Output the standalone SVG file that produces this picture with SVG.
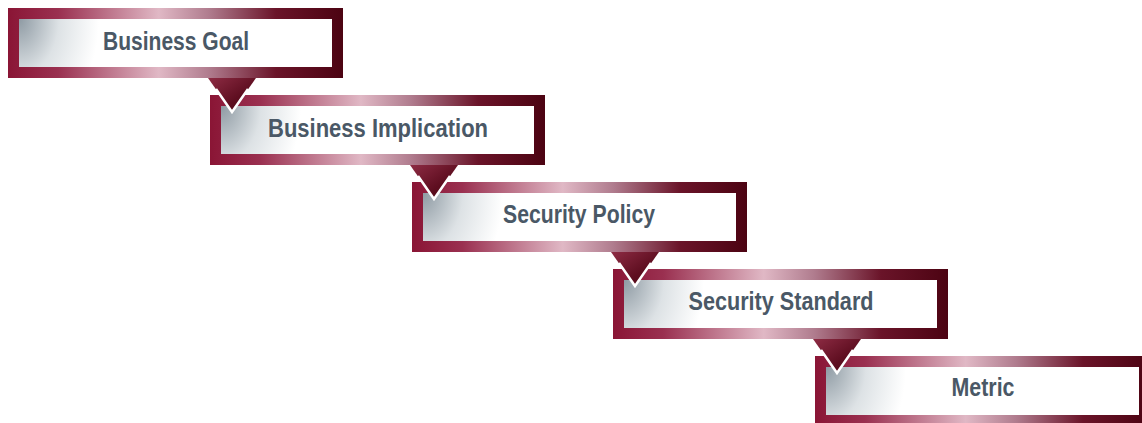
<svg xmlns="http://www.w3.org/2000/svg" width="1142" height="423" viewBox="0 0 1142 423">
  <defs>
    <linearGradient id="border" gradientUnits="userSpaceOnUse" x1="0" y1="0" x2="335" y2="0">
      <stop offset="0" stop-color="#8a1535"/>
      <stop offset="0.15" stop-color="#9a3050"/>
      <stop offset="0.45" stop-color="#e0b8c5"/>
      <stop offset="0.6" stop-color="#b07c8e"/>
      <stop offset="0.8" stop-color="#6a1429"/>
      <stop offset="1" stop-color="#4c0312"/>
    </linearGradient>
    <radialGradient id="inner" gradientUnits="userSpaceOnUse" cx="11" cy="11" r="80" gradientTransform="translate(11,11) scale(1,1.4) translate(-11,-11)">
      <stop offset="0" stop-color="#8e9aa3"/>
      <stop offset="0.5" stop-color="#dde2e5"/>
      <stop offset="1" stop-color="#ffffff"/>
    </radialGradient>
    <linearGradient id="tri" x1="0" y1="0" x2="1" y2="1">
      <stop offset="0" stop-color="#8e2c44"/>
      <stop offset="0.6" stop-color="#5e0e20"/>
      <stop offset="1" stop-color="#4a0510"/>
    </linearGradient>
  </defs>
  <style>
    .outer { fill: url(#border); }
    .inner { fill: url(#inner); }
    .label { font-family: "Liberation Sans", Arial, sans-serif; font-weight: bold; font-size: 25px; fill: #4a5866; text-anchor: middle; }
    .tri { fill: url(#tri); }
    .edge { fill: none; stroke: #ffffff; stroke-width: 2.5; stroke-linejoin: miter; }
  </style>
  <rect width="1142" height="423" fill="#ffffff"/>

  <g id="node-business-goal" transform="translate(8,8)">
    <rect class="outer" x="0" y="0" width="335" height="70"/>
    <rect class="inner" x="11" y="11" width="313" height="48"/>
    <text class="label" x="168" y="42" textLength="146" lengthAdjust="spacingAndGlyphs">Business Goal</text>
  </g>
  <g id="node-business-implication" transform="translate(210,95)">
    <rect class="outer" x="0" y="0" width="335" height="70"/>
    <rect class="inner" x="11" y="11" width="313" height="48"/>
    <text class="label" x="168" y="42" textLength="220" lengthAdjust="spacingAndGlyphs">Business Implication</text>
  </g>
  <g id="node-security-policy" transform="translate(412,182)">
    <rect class="outer" x="0" y="0" width="335" height="70"/>
    <rect class="inner" x="11" y="11" width="313" height="48"/>
    <text class="label" x="167" y="41" textLength="152" lengthAdjust="spacingAndGlyphs">Security Policy</text>
  </g>
  <g id="node-security-standard" transform="translate(613,269)">
    <rect class="outer" x="0" y="0" width="335" height="70"/>
    <rect class="inner" x="11" y="11" width="313" height="48"/>
    <text class="label" x="168" y="41" textLength="185" lengthAdjust="spacingAndGlyphs">Security Standard</text>
  </g>
  <g id="node-metric" transform="translate(815,356)">
    <rect class="outer" x="0" y="0" width="335" height="70"/>
    <rect class="inner" x="11" y="11" width="313" height="48"/>
    <text class="label" x="168" y="40" textLength="63" lengthAdjust="spacingAndGlyphs">Metric</text>
  </g>

  <g id="connectors">
    <g transform="translate(210,95)">
      <path class="tri" d="M-2,-17 L46,-17 L22,17 Z"/>
      <path class="edge" d="M6,-6 L22,17 L38,-6"/>
    </g>
    <g transform="translate(412,182)">
      <path class="tri" d="M-2,-17 L46,-17 L22,17 Z"/>
      <path class="edge" d="M6,-6 L22,17 L38,-6"/>
    </g>
    <g transform="translate(613,269)">
      <path class="tri" d="M-2,-17 L46,-17 L22,17 Z"/>
      <path class="edge" d="M6,-6 L22,17 L38,-6"/>
    </g>
    <g transform="translate(815,356)">
      <path class="tri" d="M-2,-17 L46,-17 L22,17 Z"/>
      <path class="edge" d="M6,-6 L22,17 L38,-6"/>
    </g>
  </g>
</svg>
